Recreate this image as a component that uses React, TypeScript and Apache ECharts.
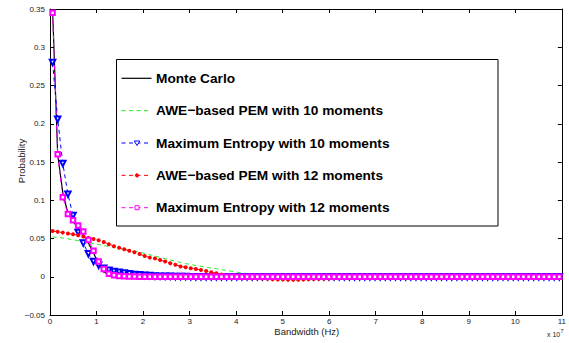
import React, { useEffect, useRef } from "react";
import * as echarts from "echarts";

// x grid: histogram bin centres, in units of 1e7 Hz (100 bins over 0..11)
const BIN_COUNT = 100;
const BIN_WIDTH = 0.11;
const BIN_CENTERS: number[] = Array.from({ length: BIN_COUNT }, (_, i) => +((i + 0.5) * BIN_WIDTH).toFixed(4));

const X_TICKS = [0, 1, 2, 3, 4, 5, 6, 7, 8, 9, 10, 11];
const Y_TICKS = [-0.05, 0, 0.05, 0.1, 0.15, 0.2, 0.25, 0.3, 0.35];

const SERIES_NAMES = [
  "Monte Carlo",
  "AWE\u2212based PEM with 10 moments",
  "Maximum Entropy with 10 moments",
  "AWE\u2212based PEM with 12 moments",
  "Maximum Entropy with 12 moments",
];
const SERIES_COLORS = ["#000000", "#22ee22", "#0000ff", "#ff0000", "#ff00ff"];

const MONTE_CARLO = [
  0.35, 0.16, 0.11, 0.083, 0.072, 0.064, 0.055, 0.044, 0.031, 0.017,
  0.007, 0.002, 0.0005, 0.0002, 0, 0, 0, 0, 0, 0,
  0, 0, 0, 0, 0, 0, 0, 0, 0, 0,
  0, 0, 0, 0, 0, 0, 0, 0, 0, 0,
  0, 0, 0, 0, 0, 0, 0, 0, 0, 0,
  0, 0, 0, 0, 0, 0, 0, 0, 0, 0,
  0, 0, 0, 0, 0, 0, 0, 0, 0, 0,
  0, 0, 0, 0, 0, 0, 0, 0, 0, 0,
  0, 0, 0, 0, 0, 0, 0, 0, 0, 0,
  0, 0, 0, 0, 0, 0, 0, 0, 0, 0,
];

const AWE_10 = [
  0.052, 0.0514, 0.0506, 0.0496, 0.0484, 0.0472, 0.046, 0.0447, 0.0434, 0.0421,
  0.0408, 0.0395, 0.0382, 0.037, 0.0358, 0.0347, 0.0335, 0.0321, 0.0305, 0.0288,
  0.0271, 0.0254, 0.0237, 0.022, 0.0203, 0.0187, 0.0172, 0.0159, 0.0147, 0.0136,
  0.0125, 0.0114, 0.0104, 0.0093, 0.0082, 0.0071, 0.006, 0.005, 0.0041, 0.0033,
  0.0025, 0.0018, 0.0012, 0.0007, 0.0003, 0, -0.0002, -0.0004, -0.0006, -0.0007,
  -0.0008, -0.0009, -0.001, -0.001, -0.001, -0.001, -0.001, -0.001, -0.0009, -0.0009,
  -0.0008, -0.0007, -0.0006, -0.0005, -0.0004, -0.0003, -0.0002, -0.0001, 0, 0,
  0, 0, 0, 0, 0, 0, 0, 0, 0, 0,
  0, 0, 0, 0, 0, 0, 0, 0, 0, 0,
  0, 0, 0, 0, 0, 0, 0, 0, 0, 0,
];

const ME_10 = [
  0.28, 0.206, 0.148, 0.108, 0.08, 0.058, 0.044, 0.03, 0.02, 0.015,
  0.011, 0.0085, 0.007, 0.006, 0.005, 0.004, 0.003, 0.0025, 0.002, 0.0015,
  0.001, 0.0008, 0.0006, 0.0005, 0.0004, 0.0003, 0.0002, 0.0001, 0, 0,
  0, 0, 0, 0, 0, 0, 0, 0, 0, 0,
  0, 0, 0, 0, 0, 0, 0, 0, 0, 0,
  0, 0, 0, 0, 0, 0, 0, 0, 0, 0,
  0, 0, 0, 0, 0, 0, 0, 0, 0, 0,
  0, 0, 0, 0, 0, 0, 0, 0, 0, 0,
  0, 0, 0, 0, 0, 0, 0, 0, 0, 0,
  0, 0, 0, 0, 0, 0, 0, 0, 0, 0,
];

const AWE_12 = [
  0.0597, 0.0588, 0.0577, 0.0566, 0.0555, 0.0542, 0.0525, 0.0508, 0.0493, 0.0478,
  0.0455, 0.0425, 0.04, 0.038, 0.036, 0.034, 0.032, 0.0297, 0.027, 0.025,
  0.024, 0.0218, 0.0198, 0.0177, 0.0156, 0.0135, 0.0124, 0.011, 0.0102, 0.0089,
  0.0076, 0.0059, 0.0045, 0.003, 0.0014, 0.0009, 0.0001, -0.0007, -0.0011, -0.0019,
  -0.002, -0.0024, -0.0028, -0.0032, -0.0035, -0.0037, -0.0039, -0.004, -0.0039, -0.0037,
  -0.0034, -0.0031, -0.0028, -0.0025, -0.0023, -0.002, -0.0018, -0.0015, -0.0012, -0.0009,
  -0.0006, -0.0003, -0.0001, 0.0001, 0.0002, 0.0003, 0.0003, 0.0003, 0.0004, 0.0004,
  0.0004, 0.0004, 0.0003, 0.0003, 0.0002, 0.0002, 0.0001, 0.0001, 0, 0,
  0, 0, 0, 0, 0, 0, 0, 0, 0, 0,
  0, 0, 0, 0, 0, 0, 0, 0, 0, 0,
];

const ME_12 = [
  0.345, 0.16, 0.104, 0.082, 0.074, 0.067, 0.059, 0.048, 0.034, 0.02,
  0.01, 0.004, 0.002, 0.001, 0.0005, 0.0003, 0.0002, 0.0001, 0, 0,
  0, 0, 0, 0, 0, 0, 0, 0, 0, 0,
  0, 0, 0, 0, 0, 0, 0, 0, 0, 0,
  0, 0, 0, 0, 0, 0, 0, 0, 0, 0,
  0, 0, 0, 0, 0, 0, 0, 0, 0, 0,
  0, 0, 0, 0, 0, 0, 0, 0, 0, 0,
  0, 0, 0, 0, 0, 0, 0, 0, 0, 0,
  0, 0, 0, 0, 0, 0, 0, 0, 0, 0,
  0, 0, 0, 0, 0, 0, 0, 0, 0, 0,
];

const FONT = "'Liberation Sans', Arial, Helvetica, sans-serif";
const DASH = [4, 3.5];

const pair = (vals: number[]) => BIN_CENTERS.map((x, i) => [x, vals[i]]);

function legendGraphics() {
  const boxX = 116.5, boxY = 59.5, boxW = 381.5, boxH = 166.5;
  const firstY = 78.3, stepY = 32.35;
  const lineX1 = 121.5, lineX2 = 151.5, markX = 137, textX = 156;
  const children: any[] = [
    {
      type: "rect",
      shape: { x: boxX, y: boxY, width: boxW, height: boxH },
      style: { fill: "#fff", stroke: "#000", lineWidth: 1 },
    },
  ];
  SERIES_NAMES.forEach((name, i) => {
    const y = firstY + stepY * i;
    const color = SERIES_COLORS[i];
    children.push({
      type: "line",
      shape: { x1: lineX1, y1: y, x2: lineX2, y2: y },
      style: { stroke: color, lineWidth: i === 0 ? 1.2 : 1, lineDash: i === 0 ? null : DASH },
    });
    if (i === 2) {
      children.push({
        type: "polygon",
        shape: { points: [[markX - 2.8, y - 2], [markX + 2.8, y - 2], [markX, y + 2.5]] },
        style: { fill: "#fff", stroke: color, lineWidth: 1 },
      });
    } else if (i === 3) {
      children.push({
        type: "circle",
        shape: { cx: markX, cy: y, r: 1.8 },
        style: { fill: color, stroke: color, lineWidth: 0.5 },
      });
    } else if (i === 4) {
      children.push({
        type: "rect",
        shape: { x: markX - 2, y: y - 2, width: 4, height: 4 },
        style: { fill: "#fff", stroke: color, lineWidth: 1 },
      });
    }
    children.push({
      type: "text",
      x: textX,
      y: y,
      style: {
        text: name,
        fontSize: 13.7,
        fontWeight: "bold",
        fontFamily: FONT,
        fill: "#000",
        align: "left",
        verticalAlign: "middle",
      },
    });
  });
  return { type: "group", z: 10, children };
}

export default function App() {
  const ref = useRef<HTMLDivElement>(null);

  useEffect(() => {
    if (!ref.current) return;
    const chart = echarts.init(ref.current, null, { renderer: "svg" });

    const axisCommon = {
      type: "value" as const,
      axisLine: { show: true, onZero: false, lineStyle: { color: "#000", width: 1 } },
      axisTick: { show: true, inside: true, length: 4, lineStyle: { color: "#000", width: 1 } },
      splitLine: { show: false },
    };

    const fmtY = (v: number) => String(+v.toFixed(2)).replace("-", "\u2212");

    chart.setOption({
      animation: false,
      backgroundColor: "#fff",
      grid: { left: 50, right: 7, top: 9, bottom: 28, show: false, containLabel: false },
      xAxis: [
        {
          ...axisCommon,
          position: "bottom",
          min: X_TICKS[0],
          max: X_TICKS[X_TICKS.length - 1],
          interval: 1,
          axisLabel: { show: true, fontSize: 8, color: "#222", fontFamily: FONT, margin: 2 },
        },
        {
          ...axisCommon,
          position: "top",
          min: X_TICKS[0],
          max: X_TICKS[X_TICKS.length - 1],
          interval: 1,
          axisLabel: { show: false },
        },
      ],
      yAxis: [
        {
          ...axisCommon,
          position: "left",
          min: Y_TICKS[0],
          max: Y_TICKS[Y_TICKS.length - 1],
          interval: 0.05,
          axisLabel: { show: true, fontSize: 8, color: "#222", fontFamily: FONT, margin: 5, formatter: fmtY },
        },
        {
          ...axisCommon,
          position: "right",
          min: Y_TICKS[0],
          max: Y_TICKS[Y_TICKS.length - 1],
          interval: 0.05,
          axisLabel: { show: false },
        },
      ],
      graphic: [
        legendGraphics(),
        {
          type: "text",
          x: 306.8,
          y: 331,
          style: {
            text: "Bandwidth (Hz)",
            fontSize: 9.5,
            fontFamily: FONT,
            fill: "#222",
            align: "center",
            verticalAlign: "middle",
          },
        },
        {
          type: "text",
          x: 21,
          y: 161,
          rotation: Math.PI / 2,
          style: {
            text: "Probability",
            fontSize: 9.5,
            fontFamily: FONT,
            fill: "#222",
            align: "center",
            verticalAlign: "middle",
          },
        },
        {
          type: "text",
          x: 547,
          y: 334,
          style: { text: "x 10", fontSize: 7, fontFamily: FONT, fill: "#222", align: "left", verticalAlign: "middle" },
        },
        {
          type: "text",
          x: 560.5,
          y: 330.5,
          style: { text: "7", fontSize: 5.5, fontFamily: FONT, fill: "#222", align: "left", verticalAlign: "middle" },
        },
      ],
      series: [
        {
          name: SERIES_NAMES[0],
          type: "line",
          data: pair(MONTE_CARLO),
          symbol: "none",
          lineStyle: { color: SERIES_COLORS[0], width: 1.2, type: "solid" },
          itemStyle: { color: SERIES_COLORS[0] },
          z: 2,
        },
        {
          name: SERIES_NAMES[1],
          type: "line",
          data: pair(AWE_10),
          symbol: "none",
          lineStyle: { color: SERIES_COLORS[1], width: 1, type: DASH },
          itemStyle: { color: SERIES_COLORS[1] },
          z: 2,
        },
        {
          name: SERIES_NAMES[2],
          type: "line",
          data: pair(ME_10),
          symbol: "emptyTriangle",
          symbolRotate: 180,
          symbolSize: 5.5,
          lineStyle: { color: SERIES_COLORS[2], width: 1, type: DASH },
          itemStyle: { color: SERIES_COLORS[2], borderColor: SERIES_COLORS[2], borderWidth: 1 },
          z: 2,
        },
        {
          name: SERIES_NAMES[3],
          type: "line",
          data: pair(AWE_12),
          symbol: "circle",
          symbolSize: 4,
          lineStyle: { color: SERIES_COLORS[3], width: 1, type: DASH },
          itemStyle: { color: SERIES_COLORS[3] },
          z: 2,
        },
        {
          name: SERIES_NAMES[4],
          type: "line",
          data: pair(ME_12),
          symbol: "emptyRect",
          symbolSize: 4.5,
          lineStyle: { color: SERIES_COLORS[4], width: 1, type: DASH },
          itemStyle: { color: SERIES_COLORS[4], borderColor: SERIES_COLORS[4], borderWidth: 1 },
          z: 2,
        },
      ],
    });

    return () => chart.dispose();
  }, []);

  return (
    <div
      ref={ref}
      style={{ position: "absolute", left: 0, top: 0, width: 569, height: 343, background: "#fff" }}
    />
  );
}
